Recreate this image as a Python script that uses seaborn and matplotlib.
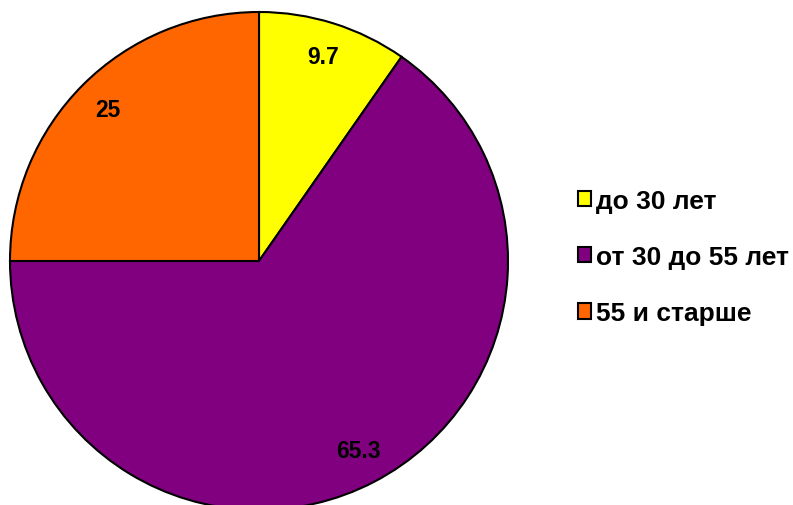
import matplotlib
matplotlib.use("Agg")
import matplotlib.pyplot as plt
import seaborn as sns

# данные диаграммы
categories = ["до 30 лет", "от 30 до 55 лет", "55 и старше"]
values = [9.7, 65.3, 25]
colors = ["#FFFF00", "#800080", "#FF6600"]

sns.set_style("white")
plt.rcParams['font.family'] = ['Liberation Sans', 'DejaVu Sans']
plt.rcParams['text.color'] = 'black'

fig = plt.figure(figsize=(7.93, 5.06), dpi=100)
ax = fig.add_axes([10 / 793, -5 / 506, 498 / 793, 498 / 506])

wedges, texts = ax.pie(values, labels=[f"{v:g}" for v in values], colors=colors,
                       startangle=90, counterclock=False, radius=1,
                       labeldistance=0.86,
                       wedgeprops=dict(edgecolor="black", linewidth=1.5),
                       textprops=dict(fontsize=16.5, fontweight="bold", color="black"))
for t in texts:
    t.set_horizontalalignment("center")
    t.set_verticalalignment("center")
ax.set_xlim(-1.0, 1.0)
ax.set_ylim(-1.0, 1.0)
ax.set_aspect("equal")
ax.axis("off")

fig.legend(wedges, categories, loc="center left",
           bbox_to_anchor=(567 / 793, 1 - 258 / 506),
           frameon=False, prop=dict(size=19, weight="bold"),
           handlelength=0.52, handleheight=0.52, handletextpad=0.18,
           labelspacing=1.22, borderaxespad=0)

fig.savefig("out.png", dpi=100)
